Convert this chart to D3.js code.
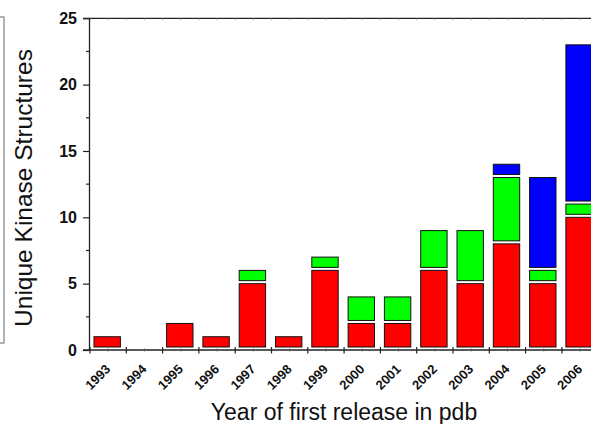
<!DOCTYPE html>
<html><head><meta charset="utf-8">
<script src="https://cdn.jsdelivr.net/npm/d3@7/dist/d3.min.js"></script>
<style>body{margin:0;background:#fff}svg{display:block}</style>
</head><body>
<svg id="c" width="591" height="424"></svg>
<script>
const years = ["1993","1994","1995","1996","1997","1998","1999","2000","2001","2002","2003","2004","2005","2006"];
const red   = [1,0,2,1,5,1,6,2,2,6,5,8,5,10];
const green = [0,0,0,0,1,0,1,2,2,3,4,5,1,1];
const blue  = [0,0,0,0,0,0,0,0,0,0,0,1,7,12];
const yTicks = [0,5,10,15,20,25];
const seriesNames = ["red","green","blue"];
const seriesColors = ["#ff0000","#00ff00","#0000ff"];

const svg = d3.select("#c");
const x = d3.scaleBand().domain(years).range([90, 90 + 14*36.3]).padding(0);
const y = d3.scaleLinear().domain([0,25]).range([350, 18.3]);
const font = "Arial, 'Liberation Sans', sans-serif";

// partial left box
svg.append("rect").attr("x",-20).attr("y",17).attr("width",24).attr("height",326)
  .attr("fill","none").attr("stroke","#9a9a9a").attr("stroke-width",1.5);

// bars
const table = years.map((yr,i)=>({year:yr, red:red[i], green:green[i], blue:blue[i]}));
const stack = d3.stack().keys(seriesNames)(table);
const gap = 3;
stack.forEach((s,si)=>{
  svg.append("g").selectAll("rect").data(s.filter(d=>d[1]>d[0])).join("rect")
    .attr("x", d=>x(d.data.year)+4)
    .attr("width", x.bandwidth()*0.727)
    .attr("y", d=>y(d[1]))
    .attr("height", d=>y(d[0]) - gap - y(d[1]))
    .attr("fill", seriesColors[si])
    .attr("stroke","#111").attr("stroke-width",1);
});

// top frame line
svg.append("line").attr("x1",83).attr("x2",600).attr("y1",y(25)).attr("y2",y(25))
  .attr("stroke","#222").attr("stroke-width",1.3);
// faint minor ticks on top line
svg.append("g").selectAll("line").data(d3.range(0,29)).join("line")
  .attr("x1",d=>90+d*18.15).attr("x2",d=>90+d*18.15)
  .attr("y1",y(25)).attr("y2",y(25)+2).attr("stroke","#999").attr("stroke-width",0.8);

// y axis
const yAxis = d3.axisLeft(y).tickValues(yTicks).tickSize(6.5).tickPadding(6).tickFormat(d3.format("d"));
const gy = svg.append("g").attr("transform","translate(89.5,0)").call(yAxis);
gy.select(".domain").attr("stroke","#222").attr("stroke-width",1.3).attr("d","M0,"+y(25)+"V"+y(0));
gy.selectAll(".tick line").attr("stroke","#222").attr("stroke-width",1.2);
gy.selectAll(".tick text").attr("font-family",font).attr("font-weight","bold").attr("font-size",16).attr("fill","#111");
// y minor ticks
svg.append("g").selectAll("line").data([2.5,7.5,12.5,17.5,22.5]).join("line")
  .attr("x1",86).attr("x2",89.5).attr("y1",d=>y(d)).attr("y2",d=>y(d))
  .attr("stroke","#222").attr("stroke-width",1.2);

// x axis
svg.append("line").attr("x1",83).attr("x2",600).attr("y1",y(0)).attr("y2",y(0))
  .attr("stroke","#222").attr("stroke-width",1.3);
const xb = years.map(d=>x(d)).concat([x(years[years.length-1])+x.bandwidth()]);
svg.append("g").selectAll("line").data(xb).join("line")
  .attr("x1",d=>d).attr("x2",d=>d).attr("y1",y(0)-3).attr("y2",y(0)+3.5)
  .attr("stroke","#222").attr("stroke-width",1.2);
svg.append("g").selectAll("line").data(years).join("line")
  .attr("x1",d=>x(d)+x.bandwidth()/2).attr("x2",d=>x(d)+x.bandwidth()/2)
  .attr("y1",y(0)-1.5).attr("y2",y(0)+1.5)
  .attr("stroke","#555").attr("stroke-width",0.8);
svg.append("g").selectAll("text").data(years).join("text")
  .attr("transform",d=>`translate(${x(d)+x.bandwidth()/2+3},370) rotate(-45)`)
  .attr("text-anchor","end").attr("font-family",font).attr("font-weight","bold")
  .attr("font-size",13).attr("fill","#111").text(d=>d);

// titles
svg.append("text").attr("x",344).attr("y",420).attr("text-anchor","middle")
  .attr("font-family",font).attr("font-size",23).attr("fill","#111")
  .text("Year of first release in pdb");
svg.append("text").attr("transform","translate(32,188) rotate(-90)").attr("text-anchor","middle")
  .attr("font-family",font).attr("font-size",24.5).attr("fill","#111")
  .text("Unique Kinase Structures");
</script>
</body></html>
